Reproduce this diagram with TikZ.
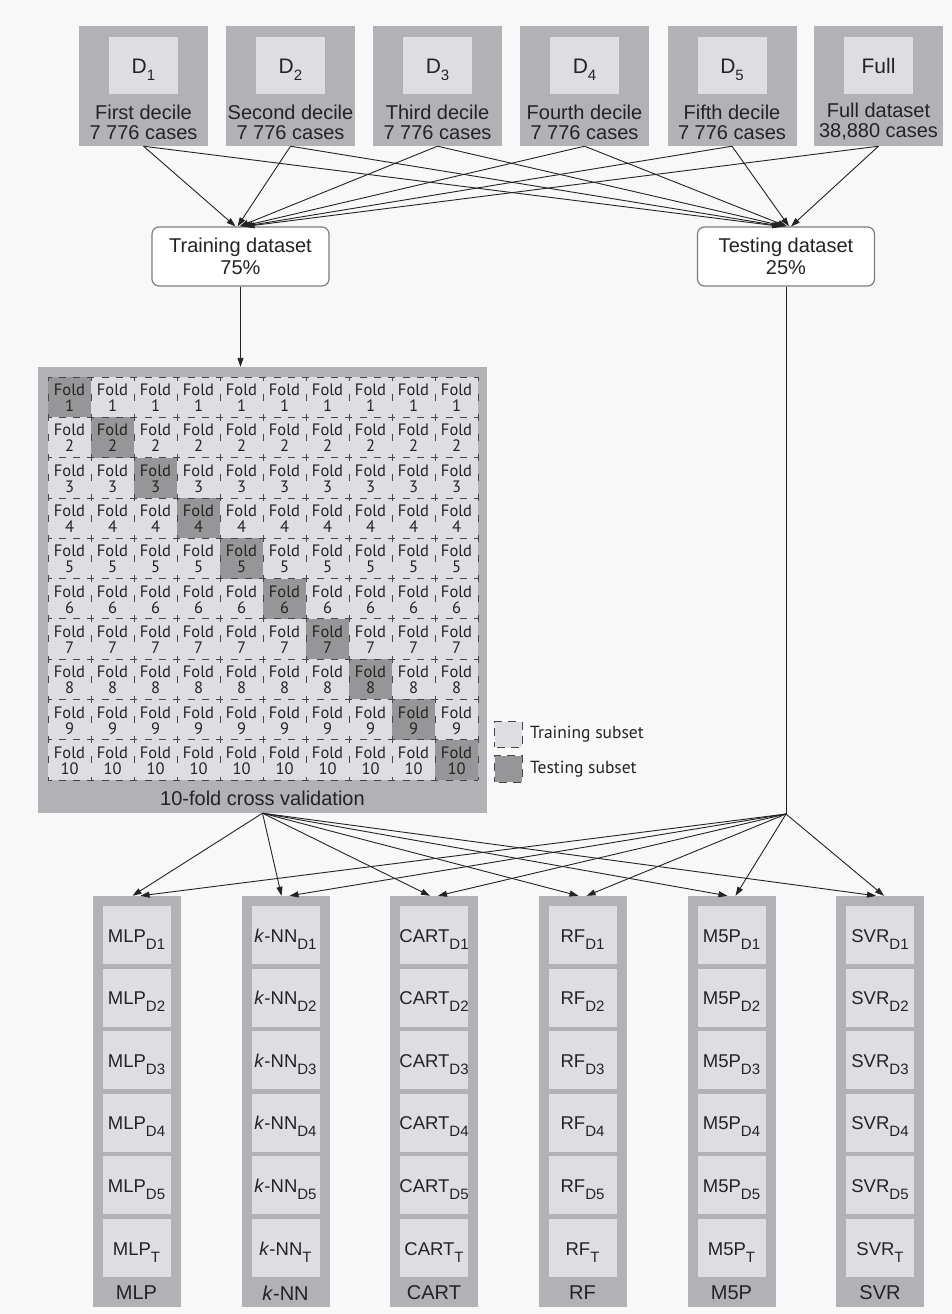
\documentclass[tikz,border=0pt]{standalone}
\usepackage{fontspec}
\setmainfont{Liberation Sans}
\newfontfamily\gridfont{PT Sans}
\usetikzlibrary{arrows.meta,calc}
\definecolor{panel}{RGB}{178,178,182}
\definecolor{innerc}{RGB}{222,222,226}
\definecolor{darkcell}{RGB}{150,150,152}
\definecolor{bgc}{RGB}{248,248,248}
\definecolor{linec}{RGB}{35,35,35}
\definecolor{boxline}{RGB}{125,125,125}
\definecolor{textc}{RGB}{35,35,35}
\definecolor{gridline}{RGB}{70,70,70}
\newcommand{\sbs}[1]{\raisebox{-7pt}{\fontsize{15}{15}\selectfont #1}}
\begin{document}
\begin{tikzpicture}[x=1pt,y=-1pt,
  outerbox/.style={fill=panel, draw=none, inner sep=0pt},
  innerbox/.style={fill=innerc, draw=none, inner sep=0pt, minimum width=69pt, minimum height=57pt},
  modelbox/.style={fill=innerc, draw=none, inner sep=0pt, minimum width=68pt, minimum height=58pt},
  bigtext/.style={text=textc, font=\fontsize{20}{20}\selectfont, align=center, inner sep=0pt},
  modeltext/.style={text=textc, font=\fontsize{18.5}{20}\selectfont, inner sep=0pt, anchor=base},
  datasetbox/.style={draw=boxline, fill=white, line width=1.2pt, rounded corners=7pt,
     minimum width=177pt, minimum height=59pt, align=center, text=textc,
     font=\fontsize{20}{22}\selectfont, inner sep=0pt},
  cell/.style={minimum width=43pt, minimum height=40.3pt, inner sep=0pt, draw=none},
  celltext/.style={inner sep=0pt, text=textc, font=\gridfont\fontsize{16.5}{17}\selectfont},
  hdash/.style={draw=gridline, line width=0.8pt, dash pattern=on 7pt off 7.33pt, dash phase=3.5pt},
  vdash/.style={draw=gridline, line width=0.8pt, dash pattern=on 7pt off 13.15pt, dash phase=3.5pt},
  legdash/.style={draw=gridline, line width=0.8pt, dash pattern=on 8pt off 6pt, dash phase=3pt},
  arr/.style={draw=linec, line width=0.9pt, -{Triangle[length=9pt,width=6pt]}},
  plain/.style={draw=linec, line width=0.9pt}
]
\useasboundingbox (0,0) rectangle (952,1314);
\fill[bgc] (0,0) rectangle (952,1314);

% ---------- top data boxes ----------
\foreach \i/\cx/\lab/\txt in {
  1/143.5/{D\sbs{1}}/{First decile\\7 776 cases},
  2/290.5/{D\sbs{2}}/{Second decile\\7 776 cases},
  3/437.5/{D\sbs{3}}/{Third decile\\7 776 cases},
  4/584.5/{D\sbs{4}}/{Fourth decile\\7 776 cases},
  5/732/{D\sbs{5}}/{Fifth decile\\7 776 cases},
  6/878.5/{Full}/{Full dataset\\38,880 cases}}{
  \node[outerbox, minimum width=129pt, minimum height=120pt] (top\i) at (\cx,86) {};
  \node[innerbox] (topin\i) at (\cx,65.5) {};
  \node[modeltext, font=\fontsize{21}{20}\selectfont] (toplab\i) at (\cx,74) {\lab};
  \node[bigtext] (toptxt\i) at (\cx,122) {\txt};
}

% ---------- dataset boxes ----------
\node[datasetbox] (train) at (240.5,256.5) {Training dataset\\75\%};
\node[datasetbox] (test) at (786,256.5) {Testing dataset\\25\%};

\foreach \i in {1,...,6}{
  \pgfmathsetmacro{\off}{-5+(\i-1)*2}
  \draw[arr] (top\i.south) -- ($(train.north)+(\off,0)$);
  \draw[arr] (top\i.south) -- ($(test.north)+(\off,0)$);
}

% ---------- cross validation panel ----------
\node[outerbox, minimum width=449pt, minimum height=446pt] (cv) at (262.5,590) {};
\node[bigtext] (cvcap) at (262.5,798) {10-fold cross validation};
\draw[arr] (train.south) -- (train.south |- cv.north);

\foreach \r in {0,...,9}{
  \foreach \c in {0,...,9}{
    \pgfmathsetmacro{\cx}{48+\c*43+21.5}
    \pgfmathsetmacro{\cy}{377+\r*40.3+20.15}
    \pgfmathtruncatemacro{\n}{\r+1}
    \ifnum\r=\c \def\cf{darkcell}\else\def\cf{innerc}\fi
    \node[cell, fill=\cf] (cell\r-\c) at (\cx,\cy) {};
    \node[celltext, anchor=base] (fold\r-\c) at ($(cell\r-\c.center)+(0,-1.5)$) {Fold};
    \node[celltext, anchor=base] (num\r-\c) at ($(cell\r-\c.center)+(0,14.5)$) {\n};
  }
}
\foreach \r in {0,...,10}{
  \pgfmathsetmacro{\yy}{377+\r*40.3}
  \draw[hdash] (48,\yy) -- (478,\yy);
}
\foreach \c in {0,...,10}{
  \pgfmathsetmacro{\xx}{48+\c*43}
  \draw[vdash] (\xx,377) -- (\xx,780);
}

% ---------- legend ----------
\node[fill=innerc, minimum width=27pt, minimum height=25pt, inner sep=0pt] (legtr) at (508.5,734.5) {};
\draw[legdash] (legtr.south west) rectangle (legtr.north east);
\node[fill=darkcell, minimum width=27pt, minimum height=26pt, inner sep=0pt] (legte) at (508.5,769) {};
\draw[legdash] (legte.south west) rectangle (legte.north east);
\node[anchor=west, inner sep=0pt, text=textc, font=\gridfont\fontsize{17.5}{18}\selectfont] (legtrt) at (530,734) {Training subset};
\node[anchor=west, inner sep=0pt, text=textc, font=\gridfont\fontsize{17.5}{18}\selectfont] (legtet) at (530,769) {Testing subset};

% ---------- test line ----------
\coordinate (testapex) at (786,814);
\draw[plain] (test.south) -- (testapex);

% ---------- model panels ----------
\foreach \i/\cx/\nm in {
  1/136.5/{MLP},
  2/285.5/{\textit{k}-NN},
  3/434/{CART},
  4/582.5/{RF},
  5/731.5/{M5P},
  6/880/{SVR}}{
  \node[outerbox, minimum width=88pt, minimum height=411pt] (p\i) at (\cx,1101.5) {};
  \foreach \j/\sub in {1/D1,2/D2,3/D3,4/D4,5/D5,6/T}{
    \pgfmathsetmacro{\cy}{935+(\j-1)*62.6}
    \node[modelbox] (m\i-\j) at (\cx,\cy) {};
    \node[modeltext] (mt\i-\j) at ($(m\i-\j.center)+(0,7)$) {\nm\sbs{\sub}};
  }
  \node[bigtext] (pl\i) at (\cx,1293) {\nm};
  \draw[arr] (cv.south) -- ($(p\i.north)+(-4,0)$);
  \draw[arr] (testapex) -- ($(p\i.north)+(4,0)$);
}
\end{tikzpicture}
\end{document}
